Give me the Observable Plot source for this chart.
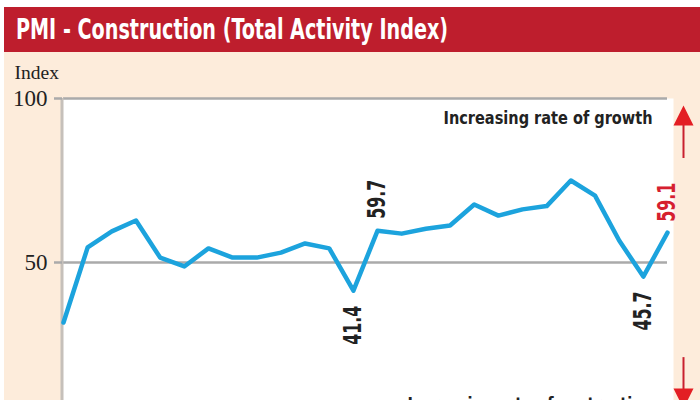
<!DOCTYPE html>
<html><head><meta charset="utf-8">
<script src="https://cdn.jsdelivr.net/npm/d3@7"></script>
<script src="https://cdn.jsdelivr.net/npm/@observablehq/plot@0.6"></script>
<style>
body{margin:0;background:#fff;}
#wrap{position:relative;width:700px;height:400px;overflow:hidden;background:#fff;}
#panel{position:absolute;left:4px;top:7px;width:696px;height:393px;background:#fdecdb;overflow:hidden;}
#title{height:45px;background:#be1e2d;color:#fff;font-family:'Liberation Sans Narrow','DejaVu Sans Condensed',sans-serif;font-weight:bold;font-size:29px;line-height:45px;padding-left:12px;white-space:nowrap;}
#title span{display:inline-block;transform-origin:left center;}
#chart svg{display:block;}
</style></head><body>
<div id="wrap"><div id="panel"><div id="title"><span id="tt">PMI - Construction (Total Activity Index)</span></div><div id="chart"></div></div></div>
<script>
// PMI construction total activity index, monthly, oldest to latest
const values = [31.7, 54.6, 59.5, 62.8, 51.5, 48.8, 54.3, 51.5, 51.5, 53.0, 55.8, 54.3, 41.4,
                59.7, 58.8, 60.3, 61.3, 67.7, 64.3, 66.2, 67.2, 75.0, 70.4, 56.7, 45.7, 59.1];
const periods = values.map((_, i) => i);
const yTicks = [50, 100];
const labelsAbove = [13];
const labelsBelow = [12, 24];
const labelsLatest = [25];
const yLabel = "Index";
const noteUp = "Increasing rate of growth";
const noteDown = "Increasing rate of contraction";

const data = periods.map(i => ({i, v: values[i]}));
const narrow = "'Liberation Sans Narrow','DejaVu Sans Condensed',sans-serif";
const last = periods[periods.length - 1];

const upHead = {draw(c){ c.moveTo(0,0); c.lineTo(10,20); c.lineTo(-10,20); c.closePath(); }};
const downHead = {draw(c){ c.moveTo(0,0); c.lineTo(10,-20); c.lineTo(-10,-20); c.closePath(); }};

const chart = Plot.plot({
  width: 696, height: 348,
  marginTop: 46, marginBottom: 0, marginLeft: 58, marginRight: 27,
  style: {background: "transparent", color: "#222", fontFamily: "'Liberation Serif', serif"},
  x: {domain: [0, last], range: [59, 663], axis: null},
  y: {domain: [0, 100], range: [374, 46], axis: null},
  marks: [
    Plot.frame({fill: "white", stroke: null}),
    Plot.ruleY(yTicks, {x1: 0, x2: last, stroke: "#aaa", strokeWidth: 2.5}),
    Plot.ruleX([0], {dx: -1.5, stroke: "#c6c0ba", strokeWidth: 3}),
    Plot.axisY({ticks: yTicks, label: null, tickSize: 8, tickPadding: 7, fontSize: 23, stroke: "#aaa", strokeWidth: 2.5, tickFormat: d => String(d)}),
    Plot.text([yLabel], {frameAnchor: "top-left", dx: -48, dy: -33, lineAnchor: "top", textAnchor: "start", fontSize: 19.5, fontFamily: "'Liberation Serif', serif"}),
    Plot.line(data, {x: "i", y: "v", stroke: "#1ca3dd", strokeWidth: 4.5, strokeLinejoin: "round"}),
    Plot.text(data.filter(d => labelsAbove.includes(d.i)), {x: "i", y: "v", text: d => d.v.toFixed(1), rotate: -90, textAnchor: "start", dy: -12, fontFamily: narrow, fontWeight: "bold", fontSize: 24, fill: "#222"}),
    Plot.text(data.filter(d => labelsBelow.includes(d.i)), {x: "i", y: "v", text: d => d.v.toFixed(1), rotate: -90, textAnchor: "end", dy: 15, fontFamily: narrow, fontWeight: "bold", fontSize: 24, fill: "#222"}),
    Plot.text(data.filter(d => labelsLatest.includes(d.i)), {x: "i", y: "v", text: d => d.v.toFixed(1), rotate: -90, textAnchor: "start", dy: -11, fontFamily: narrow, fontWeight: "bold", fontSize: 24, fill: "#d6202f"}),
    Plot.text([noteUp], {frameAnchor: "top-right", dx: -21, dy: 12, lineAnchor: "top", textAnchor: "end", fontFamily: narrow, fontWeight: "bold", fontSize: 18.5, fill: "#222"}),
    Plot.text([noteDown], {frameAnchor: "bottom-right", dx: -21, dy: -4, lineAnchor: "top", textAnchor: "end", fontFamily: narrow, fontWeight: "bold", fontSize: 18.5, fill: "#222"}),
    Plot.ruleX([last], {y1: 92.5, y2: 81.7, dx: 16, stroke: "#c8202f", strokeWidth: 2}),
    Plot.dot([97.9], {x: () => last, y: d => d, dx: 16, symbol: upHead, fill: "#e31e24", stroke: null}),
    Plot.ruleX([last], {y1: 21, y2: 11, dx: 16, stroke: "#c8202f", strokeWidth: 2}),
    Plot.dot([5.5], {x: () => last, y: d => d, dx: 16, symbol: downHead, fill: "#e31e24", stroke: null})
  ]
});
document.getElementById("chart").appendChild(chart);
// condense the narrow-font texts to the widths of the reference's condensed face
const lengths = {[noteUp]: 209, [noteDown]: 245};
chart.querySelectorAll("text").forEach(t => {
  const s = t.textContent;
  if (lengths[s]) { t.setAttribute("textLength", lengths[s]); t.setAttribute("lengthAdjust", "spacingAndGlyphs"); }
  else if (/^\d+\.\d$/.test(s)) { t.setAttribute("textLength", 39); t.setAttribute("lengthAdjust", "spacingAndGlyphs"); }
});
const tt = document.getElementById("tt");
const w = tt.getBoundingClientRect().width;
tt.style.transform = `scaleX(${432 / w})`;
</script>
</body></html>
